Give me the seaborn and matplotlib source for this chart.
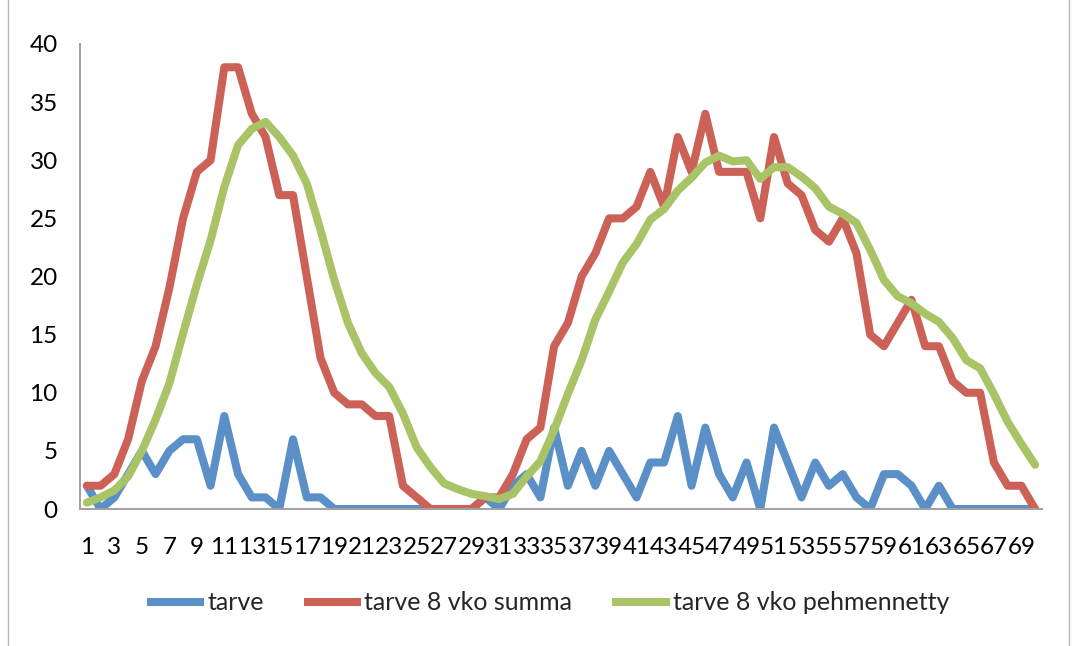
import matplotlib
matplotlib.use("Agg")
import matplotlib.pyplot as plt
from matplotlib.lines import Line2D
from matplotlib.patches import Rectangle
import pandas as pd
import seaborn as sns

# Weekly demand, its 8-week rolling sum and the smoothed sum
weeks = list(range(1, 71))
tarve = [2, 0, 1, 3, 5, 3, 5, 6, 6, 2,
         8, 3, 1, 1, 0, 6, 1, 1, 0, 0,
         0, 0, 0, 0, 0, 0, 0, 0, 0, 1,
         0, 2, 3, 1, 7, 2, 5, 2, 5, 3,
         1, 4, 4, 8, 2, 7, 3, 1, 4, 0,
         7, 4, 1, 4, 2, 3, 1, 0, 3, 3,
         2, 0, 2, 0, 0, 0, 0, 0, 0, 0]
summa = [2, 2, 3, 6, 11, 14, 19, 25, 29, 30,
         38, 38, 34, 32, 27, 27, 20, 13, 10, 9,
         9, 8, 8, 2, 1, 0, 0, 0, 0, 1,
         1, 3, 6, 7, 14, 16, 20, 22, 25, 25,
         26, 29, 26, 32, 29, 34, 29, 29, 29, 25,
         32, 28, 27, 24, 23, 25, 22, 15, 14, 16,
         18, 14, 14, 11, 10, 10, 4, 2, 2, 0]
pehmennetty = [0.55, 1.0, 1.6, 2.8, 5.0, 7.7, 10.8, 15.1, 19.3, 23.1,
               27.7, 31.3, 32.7, 33.3, 32.0, 30.4, 28.0, 24.0, 19.7, 16.0,
               13.4, 11.7, 10.5, 8.2, 5.3, 3.6, 2.2, 1.7, 1.3, 1.1,
               0.85, 1.3, 2.8, 4.1, 6.8, 9.9, 12.8, 16.3, 18.7, 21.2,
               22.8, 24.9, 25.8, 27.4, 28.5, 29.8, 30.4, 29.9, 30.0, 28.4,
               29.4, 29.4, 28.6, 27.6, 26.0, 25.4, 24.6, 22.3, 19.7, 18.3,
               17.7, 16.8, 16.1, 14.7, 12.8, 12.1, 9.9, 7.5, 5.6, 3.8]

series_names = ["tarve", "tarve 8 vko summa", "tarve 8 vko pehmennetty"]
series_colors = ["#5B8FC8", "#CC6157", "#A8C466"]
x_tick_values = list(range(1, 71, 2))
y_tick_values = list(range(0, 41, 5))

df = pd.DataFrame({
    "viikko": weeks * 3,
    "arvo": tarve + summa + pehmennetty,
    "sarja": [name for name in series_names for _ in weeks],
})

sns.set_theme(style="white")
plt.rcParams["font.family"] = ["Lato", "DejaVu Sans"]

W, H = 1075, 646
fig = plt.figure(figsize=(W / 100, H / 100), dpi=100)
ax = fig.add_axes([80 / W, 1 - 509 / H, (1042 - 80) / W, (509 - 44) / H])

palette = dict(zip(series_names, series_colors))
sns.lineplot(data=df, x="viikko", y="arvo", hue="sarja", hue_order=series_names,
             palette=palette, linewidth=5.8, ax=ax, legend=False)
for line in ax.lines:
    line.set_solid_joinstyle("round")
    line.set_solid_capstyle("round")

ax.set_xlim(0.5, 70.5)
ax.set_ylim(0, 40)
ax.set_xticks(x_tick_values)
ax.set_xticklabels([str(v) for v in x_tick_values])
ax.set_yticks(y_tick_values)
ax.set_yticklabels([str(v) for v in y_tick_values])
ax.tick_params(axis="x", length=0, pad=20, labelsize=17.5, colors="#000000")
ax.tick_params(axis="y", length=0, pad=16, labelsize=17.5, colors="#000000")
ax.set_xlabel("")
ax.set_ylabel("")
for side in ("top", "right"):
    ax.spines[side].set_visible(False)
for side in ("left", "bottom"):
    ax.spines[side].set_color("#A0A0A0")
    ax.spines[side].set_linewidth(1.4)
ax.set_facecolor("white")

handles = [Line2D([], [], color=c, linewidth=5.8, solid_capstyle="butt") for c in series_colors]
fig.legend(handles, series_names, loc="center", bbox_to_anchor=(548 / W, 1 - 603 / H),
           ncol=3, frameon=False, fontsize=18, handlelength=2.3, handletextpad=0.12,
           columnspacing=1.6)

# Chart area frame
fig.patches.append(Rectangle((8 / W, -0.05), (1069 - 8) / W, 1.2, transform=fig.transFigure,
                             fill=False, edgecolor="#B8B8B8", linewidth=1.0))

fig.savefig("out.png", dpi=100, facecolor="white")
